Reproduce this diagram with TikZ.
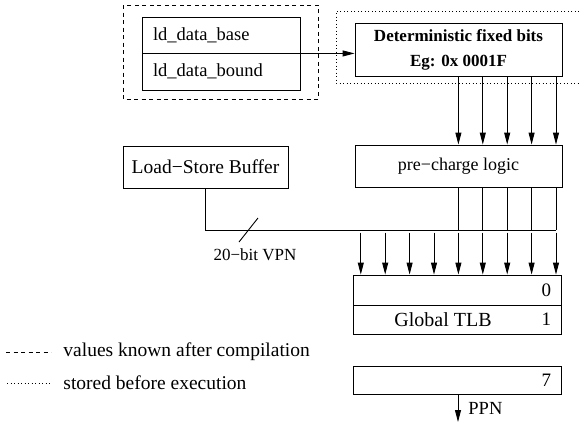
\documentclass[tikz,border=0pt]{standalone}
\usepackage{fontspec}
\setmainfont{Liberation Serif}
\usepackage{tikz}
\usetikzlibrary{arrows.meta, positioning}

\tikzset{
    box/.style={draw, inner sep=0pt},
    arr/.style={-{Triangle[length=12pt, width=6pt]}},
    lbl/.style={inner sep=0pt, font=\fontsize{#1}{#1}\selectfont},
    dsh/.style={dash pattern=on 4pt off 3.5pt},
    dts/.style={dash pattern=on 0.9pt off 2.6pt},
}

\begin{document}
\begin{tikzpicture}[x=1pt, y=-1pt, line width=0.9pt]
        \useasboundingbox (0,0) rectangle (579,434);

        \draw[dsh] (123,5) rectangle (318,99);
        \draw[dts] (579,11) -| (336,83) -- (579,83);

        \node[box, minimum width=158pt, minimum height=36pt, inner xsep=11pt, text width=136pt, align=left,
              font=\fontsize{18.5}{18.5}\selectfont] (base) at (221,35) {ld\_data\_base};
        \node[box, minimum width=158pt, minimum height=37pt, inner xsep=11pt, text width=136pt, align=left,
              font=\fontsize{18.5}{18.5}\selectfont] (bound) at (221,71.5) {ld\_data\_bound};
        \node[box, minimum width=207pt, minimum height=53pt, align=center,
              font=\bfseries\fontsize{17}{25}\selectfont] (det) at (458.5,49.5) {Deterministic fixed bits\\Eg: 0x 0001F};
        \draw[arr] (base.south east) -- (base.south east -| det.west);

        \node[box, minimum width=207pt, minimum height=42pt, font=\fontsize{18}{18}\selectfont] (pre) at (458.5,166) {pre−charge logic};
        \node[box, minimum width=165pt, minimum height=42pt, font=\fontsize{19.5}{19.5}\selectfont] (lsb) at (205.5,167) {Load−Store Buffer};

        \foreach \x in {458.4,482.8,507.2,531.6,556}
            \draw[arr] (det.south -| \x,0) -- (pre.north -| \x,0);

        \coordinate (bus) at (556,230);
        \draw (lsb.south) |- (bus);
        \foreach \x in {458.4,482.8,507.2,531.6,556}
            \draw (pre.south -| \x,0) -- (bus -| \x,0);

        \coordinate (slashA) at (239,242);
        \coordinate (slashB) at (258,218);
        \draw (slashA) -- (slashB);
        \node[lbl=17] (vpn) at (255,255) {20−bit VPN};

        \node[box, minimum width=208pt, minimum height=30pt] (tlb0) at (457,290) {};
        \node[box, minimum width=208pt, minimum height=29pt] (tlb1) at (457,319.5) {};
        \node[box, minimum width=208pt, minimum height=28pt] (tlb7) at (457,380) {};
        \node[lbl=19, anchor=east] (n0) at ([xshift=-10pt]tlb0.east) {0};
        \node[lbl=19, anchor=east] (n1) at ([xshift=-10pt]tlb1.east) {1};
        \node[lbl=19, anchor=east] (n7) at ([xshift=-10pt]tlb7.east) {7};
        \node[lbl=20] (glob) at (443,320) {Global TLB};

        \foreach \i in {0,...,8}
            \draw[arr] ([yshift=-2.5pt]bus -| {360.8+24.4*\i},0) -- (tlb0.north -| {360.8+24.4*\i},0);

        \coordinate (ppn) at (458,422);
        \draw[arr] (tlb7.south -| ppn) -- (ppn);
        \node[lbl=18.5, anchor=west] (ppnlbl) at (468,408) {PPN};

        \coordinate (legA) at (6,352);
        \coordinate (legB) at (7,383);
        \draw[dsh] (legA) -- ++(45,0) coordinate (legAe);
        \draw[dts] (legB) -- ++(44,0) coordinate (legBe);
        \node[lbl=19.5, anchor=west] (legtxtA) at ([xshift=12pt]legAe) {values known after compilation};
        \node[lbl=19.5, anchor=west] (legtxtB) at ([xshift=12pt]legBe) {stored before execution};

    \end{tikzpicture}
\end{document}
